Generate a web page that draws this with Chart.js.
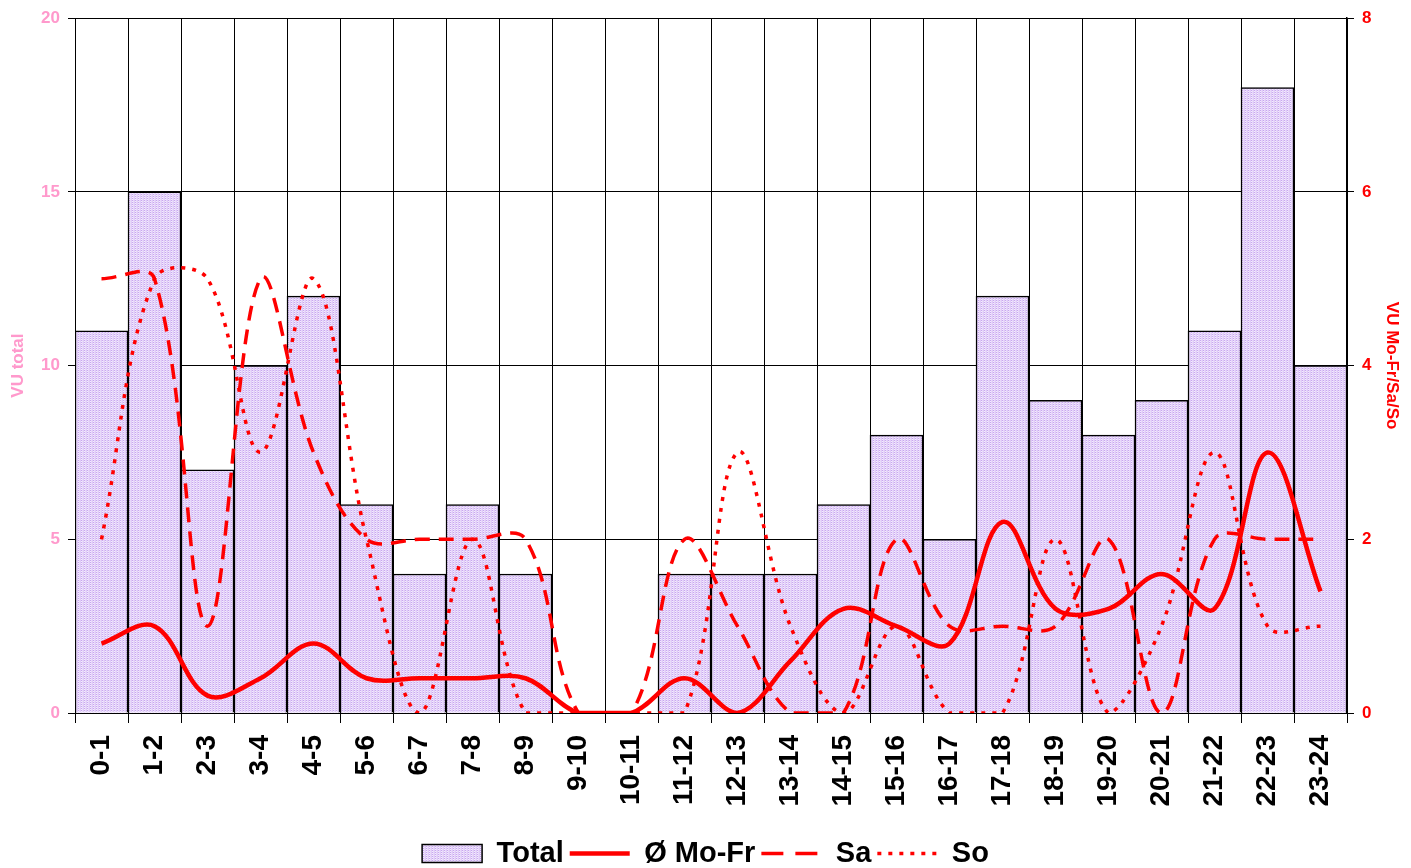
<!DOCTYPE html>
<html>
<head>
<meta charset="utf-8">
<script src="https://cdn.jsdelivr.net/npm/chart.js@4.4.1/dist/chart.umd.min.js"></script>
<style>
  html, body { margin: 0; padding: 0; background: #ffffff; }
  #wrap { width: 1411px; height: 868px; }
</style>
</head>
<body>
<div id="wrap"><canvas id="chart" width="1411" height="868"></canvas></div>
<script>
// Hourly categories
const hours = ['0-1','1-2','2-3','3-4','4-5','5-6','6-7','7-8','8-9','9-10','10-11','11-12',
               '12-13','13-14','14-15','15-16','16-17','17-18','18-19','19-20','20-21','21-22','22-23','23-24'];

// Total per hour (left axis)
const totalValues = [11, 15, 7, 10, 12, 6, 4, 6, 4, 0, 0, 4, 4, 4, 6, 8, 5, 12, 9, 8, 9, 11, 18, 10];

// Weekday average, Saturday, Sunday (right axis)
const moFrValues = [0.8, 1.0, 0.2, 0.4, 0.8, 0.4, 0.4, 0.4, 0.4, 0, 0, 0.4, 0, 0.6, 1.2, 1.0, 0.8, 2.2, 1.2, 1.2, 1.6, 1.2, 3.0, 1.4];
const saValues   = [5, 5, 1, 5, 3, 2, 2, 2, 2, 0, 0, 2, 1, 0, 0, 2, 1, 1, 1, 2, 0, 2, 2, 2];
const soValues   = [2, 5, 5, 3, 5, 2, 0, 2, 0, 0, 0, 0, 3, 1, 0, 1, 0, 0, 2, 0, 1, 3, 1, 1];

// Axis tick settings
const leftTicks = { min: 0, max: 20, step: 5 };
const rightTicks = { min: 0, max: 8, step: 2 };

const FONT = '"Liberation Sans", Arial, Helvetica, sans-serif';
const PINK = '#ff99cc';
const RED = '#ff0000';

// Fine lavender hatch used for the bars
function makeHatch() {
  const c = document.createElement('canvas');
  c.width = 3; c.height = 2;
  const g = c.getContext('2d');
  const px = [
    ['#c7a6ef', '#e8d9fa', '#dfcbf7'],
    ['#f4ecff', '#e8d9fa', '#dfcbf7']
  ];
  for (let y = 0; y < 2; y++) {
    for (let x = 0; x < 3; x++) {
      g.fillStyle = px[y][x];
      g.fillRect(x, y, 1, 1);
    }
  }
  return g.createPattern(c, 'repeat');
}
const hatch = makeHatch();

const ctx = document.getElementById('chart').getContext('2d');
new Chart(ctx, {
  data: {
    labels: hours,
    datasets: [
      {
        type: 'bar',
        label: 'Total',
        data: totalValues,
        yAxisID: 'y',
        backgroundColor: hatch,
        borderColor: '#000000',
        borderWidth: 1.5,
        barPercentage: 1.0,
        categoryPercentage: 1.0,
        order: 1
      },
      {
        type: 'line',
        label: 'Ø Mo-Fr',
        data: moFrValues,
        yAxisID: 'y1',
        borderColor: RED,
        backgroundColor: RED,
        borderWidth: 4.5,
        pointRadius: 0,
        tension: 0.36,
        fill: false,
        order: 0
      },
      {
        type: 'line',
        label: 'Sa',
        data: saValues,
        yAxisID: 'y1',
        borderColor: RED,
        backgroundColor: RED,
        borderWidth: 3.5,
        borderDash: [15, 9],
        pointRadius: 0,
        tension: 0.36,
        fill: false,
        order: 0
      },
      {
        type: 'line',
        label: 'So',
        data: soValues,
        yAxisID: 'y1',
        borderColor: RED,
        backgroundColor: RED,
        borderWidth: 3.5,
        borderDash: [4, 7],
        pointRadius: 0,
        tension: 0.36,
        fill: false,
        order: 0
      }
    ]
  },
  options: {
    responsive: false,
    animation: false,
    devicePixelRatio: 1,
    layout: { padding: { top: 18, right: 0, bottom: -10, left: 0 } },
    plugins: {
      tooltip: { enabled: false },
      legend: {
        position: 'bottom',
        labels: {
          usePointStyle: true,
          pointStyleWidth: 60,
          boxHeight: 18,
          padding: 6,
          color: '#000000',
          font: { family: FONT, size: 29, weight: 'bold' },
          sort: (a, b) => a.datasetIndex - b.datasetIndex,
          generateLabels: (chart) => {
            const items = Chart.defaults.plugins.legend.labels.generateLabels(chart);
            items.forEach((it) => {
              const ds = chart.data.datasets[it.datasetIndex];
              if (ds.type === 'bar') {
                it.pointStyle = 'rect';
                it.fillStyle = hatch;
                it.strokeStyle = '#000000';
                it.lineWidth = 1.5;
                it.lineDash = [];
              } else {
                it.pointStyle = 'line';
                it.strokeStyle = RED;
                it.lineWidth = ds.borderWidth;
                it.lineDash = ds.label === 'Sa' ? [22, 12] : (ds.borderDash || []);
              }
            });
            return items;
          }
        }
      }
    },
    scales: {
      x: {
        type: 'category',
        offset: true,
        grid: {
          offset: true,
          color: '#000000',
          lineWidth: 1,
          drawTicks: true,
          tickLength: 10,
          tickColor: '#000000'
        },
        border: { color: '#000000', width: 1 },
        ticks: {
          autoSkip: false,
          minRotation: 90,
          maxRotation: 90,
          padding: 12,
          color: '#000000',
          font: { family: FONT, size: 28, weight: 'bold' }
        },
        afterFit: (s) => { s.height = 120; }
      },
      y: {
        position: 'left',
        min: leftTicks.min,
        max: leftTicks.max,
        ticks: {
          stepSize: leftTicks.step,
          padding: 8,
          color: PINK,
          font: { family: FONT, size: 17, weight: 'bold' }
        },
        grid: {
          color: '#000000',
          lineWidth: 1,
          tickLength: 7,
          tickColor: '#000000'
        },
        border: { color: '#000000', width: 1 },
        title: {
          display: true,
          text: 'VU total',
          color: PINK,
          padding: { top: 8, bottom: 4 },
          font: { family: FONT, size: 17, weight: 'bold' }
        },
        afterFit: (s) => { s.width = 75; }
      },
      y1: {
        position: 'right',
        min: rightTicks.min,
        max: rightTicks.max,
        ticks: {
          stepSize: rightTicks.step,
          padding: 8,
          color: RED,
          font: { family: FONT, size: 17, weight: 'bold' }
        },
        grid: {
          drawOnChartArea: false,
          tickLength: 7,
          tickColor: '#000000'
        },
        border: { color: '#000000', width: 1.5 },
        title: {
          display: true,
          text: 'VU Mo-Fr/Sa/So',
          color: RED,
          padding: { top: 9, bottom: 4 },
          font: { family: FONT, size: 17, weight: 'bold' }
        },
        afterFit: (s) => { s.width = 64; }
      }
    }
  }
});
</script>
</body>
</html>
